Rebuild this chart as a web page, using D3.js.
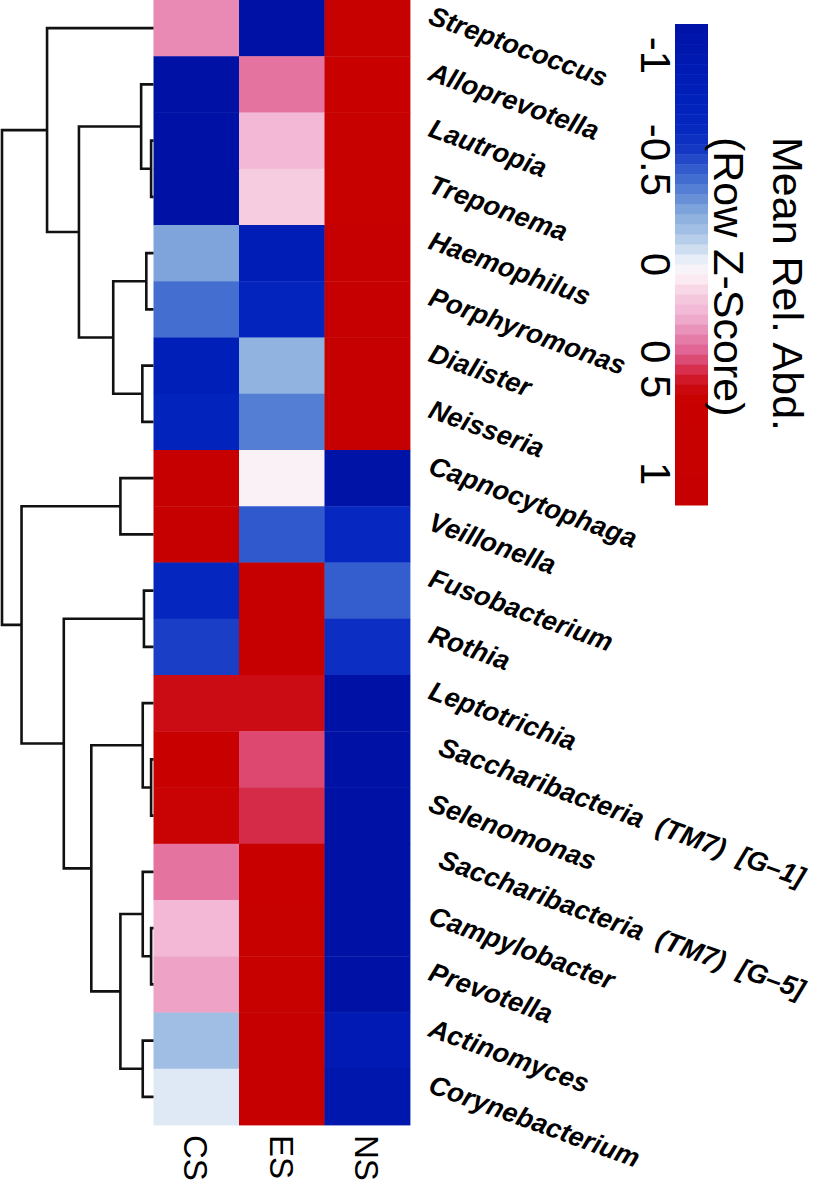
<!DOCTYPE html>
<html>
<head>
<meta charset="utf-8">
<script src="https://cdn.jsdelivr.net/npm/d3@7"></script>
<style>
  body { margin: 0; background: #ffffff; }
  svg { display: block; }
  text { font-family: "Liberation Sans", Arial, Helvetica, sans-serif; }
</style>
</head>
<body>
<svg id="chart" width="820" height="1181"></svg>
<script>
// ---------------- data ----------------
const taxa = [
  "Streptococcus", "Alloprevotella", "Lautropia", "Treponema", "Haemophilus",
  "Porphyromonas", "Dialister", "Neisseria", "Capnocytophaga", "Veillonella",
  "Fusobacterium", "Rothia", "Leptotrichia", "Saccharibacteria  (TM7)  [G\u20131]",
  "Selenomonas", "Saccharibacteria  (TM7)  [G\u20135]", "Campylobacter", "Prevotella",
  "Actinomyces", "Corynebacterium"
];
const groups = ["CS", "ES", "NS"];

// row z-scores of mean relative abundance
const csValues = [0.33, -1.15, -1.15, -1.15, -0.26, -0.40, -0.82, -0.74, 1.10, 1.12,
                  -0.68, -0.53, 0.577, 0.69, 0.64, 0.38, 0.22, 0.28, -0.17, -0.04];
const esValues = [-1.15, 0.38, 0.22, 0.15, -0.87, -0.72, -0.21, -0.36, 0.04, -0.46,
                  1.13, 1.14, 0.577, 0.46, 0.51, 0.77, 0.93, 0.87, 1.11, 1.07];
const nsValues = [0.82, 0.77, 0.93, 1.00, 1.13, 1.12, 1.03, 1.10, -1.14, -0.66,
                  -0.45, -0.61, -1.155, -1.15, -1.15, -1.15, -1.15, -1.15, -0.94, -1.02];

// hierarchical clustering merges (R hclust style: negative = leaf index+1, positive = merge step)
const mergeLeft   = [-3, -14, -17, -5, -11, -13, -16, -19, -7, -2, -9, 7, 4, 6, 10, 5, -1, 11, 17];
const mergeRight  = [-4, -15, -18, -6, -12, 2, 3, -20, -8, 1, -10, 8, 9, 12, 13, 14, 15, 16, 18];
const mergeHeight = [0.06, 0.06, 0.06, 0.18, 0.24, 0.27, 0.27, 0.27, 0.28, 0.31,
                     0.83, 0.83, 1.01, 1.56, 1.87, 2.25, 2.67, 3.31, 3.80];

// colour key
const keyStops  = [-1.155, -0.95, -0.8, -0.65, -0.55, -0.48, -0.38, -0.25, -0.15, -0.06, 0,
                   0.06, 0.15, 0.25, 0.33, 0.42, 0.5, 0.577, 0.65, 1.155];
const keyColors = ["#0012a6", "#001ab2", "#0020ba", "#0628c0", "#1438c4", "#2a52cc", "#4a76d2",
                   "#82a8dc", "#a8c4e6", "#d4e2f2", "#f6f6fa", "#fceef4", "#f6cce0", "#f0b0d0",
                   "#e88ab4", "#e06090", "#d83050", "#cc0c14", "#c80000", "#c60000"];
const keyTicks = [-1, -0.5, 0, 0.5, 1];
const keyTickLabels = ["-1", "-0.5", "0", "0 5", "1"];
const keyTitle = ["Mean Rel. Abd.", "(Row Z-Score)"];

// ---------------- drawing ----------------
const svg = d3.select("#chart");
const W = 820, H = 1181;
svg.append("rect").attr("width", W).attr("height", H).attr("fill", "#fff");

const valueTable = taxa.map((t, i) => ({ taxon: t, values: [csValues[i], esValues[i], nsValues[i]] }));

const x = d3.scaleBand().domain(groups).range([153.5, 410]);
const y = d3.scaleBand().domain(taxa).range([0, 1125]);
const color = d3.scaleLinear().domain(keyStops).range(keyColors).clamp(true);

// heatmap cells
const cells = [];
valueTable.forEach(r => r.values.forEach((v, j) => cells.push({ taxon: r.taxon, group: groups[j], v })));
svg.append("g").selectAll("rect").data(cells).join("rect")
  .attr("x", d => x(d.group))
  .attr("y", d => y(d.taxon))
  .attr("width", x.bandwidth() + 0.4)
  .attr("height", y.bandwidth() + 0.4)
  .attr("fill", d => color(d.v));

// dendrogram
const hx = d3.scaleLinear().domain([0, 3.8]).range([153.5, 2]);
const leafNode = i => ({ x: hx(0), y: y(taxa[i]) + y.bandwidth() / 2 });
const nodes = [];
const getNode = id => id < 0 ? leafNode(-id - 1) : nodes[id - 1];
const dend = svg.append("g").attr("fill", "none").attr("stroke", "#111").attr("stroke-width", 2.6);
mergeHeight.forEach((h, k) => {
  const a = getNode(mergeLeft[k]), b = getNode(mergeRight[k]);
  const n = { x: hx(h), y: (a.y + b.y) / 2 };
  nodes.push(n);
  dend.append("path").attr("d", `M${a.x},${a.y}H${n.x}V${b.y}H${b.x}`)
    .attr("stroke-linecap", "butt").attr("stroke-linejoin", "miter");
});

// row labels
svg.append("g").selectAll("text").data(taxa).join("text")
  .attr("transform", d => `translate(${427 + (d.includes("(") ? 10 : 0)},${y(d) + y.bandwidth() / 2 - 5}) rotate(20)`)
  .attr("font-size", 27)
  .attr("font-weight", "bold")
  .attr("font-style", "italic")
  .attr("fill", "#000")
  .style("white-space", "pre")
  .text(d => d);

// column labels
svg.append("g").selectAll("text").data(groups).join("text")
  .attr("transform", d => `translate(${x(d) + x.bandwidth() / 2},1135) rotate(90)`)
  .attr("dy", "0.36em")
  .attr("font-size", 33)
  .attr("fill", "#000")
  .text(d => d);

// colour key
const ky = d3.scaleLinear().domain([-1.15, 1.15]).range([24, 505]);
const nBands = 48;
const bandVals = d3.range(nBands).map(i => -1.15 + (i + 0.5) * 2.3 / nBands);
const bandH = (ky(1.15) - ky(-1.15)) / nBands;
svg.append("g").selectAll("rect").data(bandVals).join("rect")
  .attr("x", 675)
  .attr("y", d => ky(d) - bandH / 2)
  .attr("width", 33)
  .attr("height", bandH + 0.5)
  .attr("fill", d => color(d));

svg.append("g").selectAll("text").data(keyTicks).join("text")
  .attr("transform", d => `translate(641,${ky(d)}) rotate(90)`)
  .attr("text-anchor", "middle")
  .attr("font-size", 42)
  .attr("fill", "#000")
  .text((d, i) => keyTickLabels[i]);

svg.append("g").selectAll("text").data(keyTitle).join("text")
  .attr("transform", (d, i) => `translate(${i === 0 ? 773 : 714},137) rotate(90)`)
  .attr("font-size", 43)
  .attr("fill", "#000")
  .text(d => d);
</script>
</body>
</html>
